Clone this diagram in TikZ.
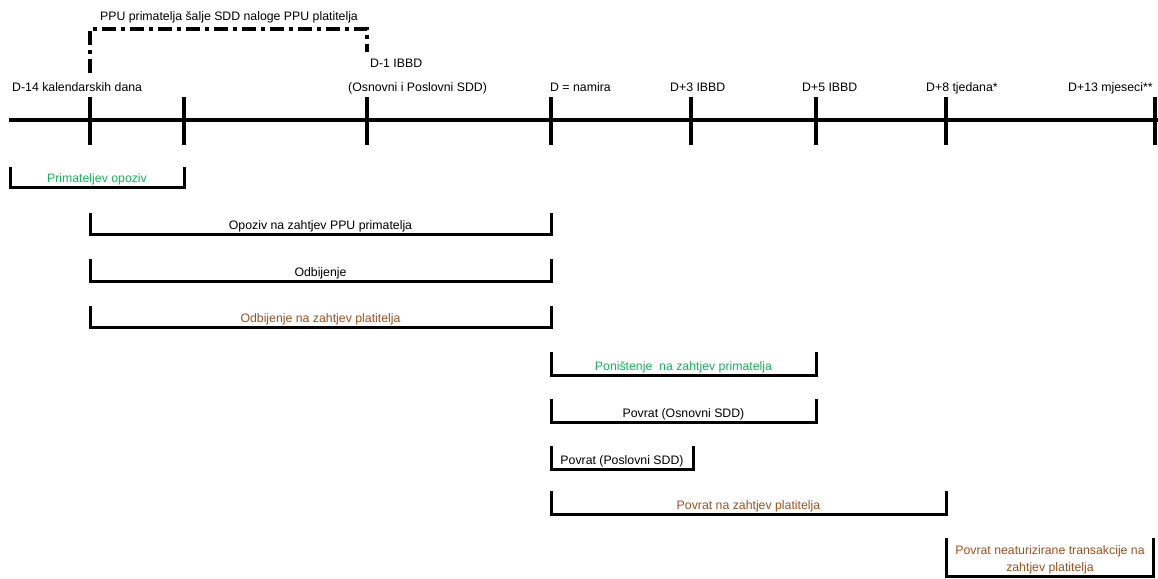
\documentclass[tikz,border=0pt]{standalone}
\usepackage{fontspec}
\setmainfont{Liberation Sans}
\definecolor{grn}{RGB}{20,180,90}
\definecolor{brn}{RGB}{160,80,30}
\begin{document}
\begin{tikzpicture}[x=1pt,y=-1pt,
  txt/.style={inner sep=0pt,anchor=base,font=\fontsize{12.3}{17}\selectfont},
  lbl/.style={txt,anchor=base west},
  axis/.style={line width=4pt},
  tick/.style={line width=4pt},
  brk/.style={line width=3pt,line join=miter},
  dd/.style={line width=3.6pt,dash pattern=on 14pt off 5pt on 4pt off 5pt}]
\useasboundingbox (0,0) rectangle (1158,578);
% tick coordinates
\foreach \n/\x in {a/90,b/184,c/367,d/551,e/691,f/816,g/946,h/1155}{
  \coordinate (t\n u) at (\x,97);
  \coordinate (t\n l) at (\x,145);
}
\coordinate (ls) at (9,120);
\coordinate (le) at (1158,120);
\draw[axis] (ls) -- (le);
\foreach \n in {a,b,c,d,e,f,g,h}{\draw[tick] (t\n u) -- (t\n l);}
% labels
\node[lbl] (l14) at (12,91) {D-14 kalendarskih dana};
\node[lbl] (lsdd) at (348,91) {(Osnovni i Poslovni SDD)};
\node[lbl] (ld1) at (370,67.5) {D-1 IBBD};
\node[lbl] (ld) at (550,91) {D = namira};
\node[lbl] (ld3) at (670,91) {D+3 IBBD};
\node[lbl] (ld5) at (802,91) {D+5 IBBD};
\node[lbl] (ld8) at (926,91) {D+8 tjedana*};
\node[lbl] (ld13) at (1068,91) {D+13 mjeseci**};
% dash-dot connector
\coordinate (da) at (90,73);
\coordinate (db) at (367,52);
\node[txt] (ppu) at (229,20.5) {PPU primatelja šalje SDD naloge PPU platitelja};
\draw[dd] (da) -- (90,29) -- (367,29) -- (db);
% brackets
\foreach \nm/\l/\r/\t/\b/\c/\s in {
  b1/10/184/167/187/grn/Primateljev opoziv,
  b2/90/551/213/234/black/Opoziv na zahtjev PPU primatelja,
  b3/90/551/259/281/black/Odbijenje,
  b4/90/551/306/327/brn/Odbijenje na zahtjev platitelja,
  b5/551/816/352/375/grn/Poništenje \ na zahtjev primatelja,
  b6/551/816/399/422/black/Povrat (Osnovni SDD),
  b7/551/693/446/469/black/Povrat (Poslovni SDD),
  b8/551/946/491/514/brn/Povrat na zahtjev platitelja}{
  \coordinate (\nm tl) at (\l,\t);
  \coordinate (\nm bl) at (\l,\b);
  \coordinate (\nm br) at (\r,\b);
  \coordinate (\nm tr) at (\r,\t);
  \draw[brk] (\nm tl) -- (\nm bl) -- (\nm br) -- (\nm tr);
  \node[txt,text=\c] (\nm x) at ({(\l+\r)/2},{\b-4.8}) {\s};
}
\coordinate (b9tl) at (946,538);
\coordinate (b9bl) at (946,576.5);
\coordinate (b9br) at (1153,576.5);
\coordinate (b9tr) at (1153,538);
\draw[brk] (b9tl) -- (b9bl) -- (b9br) -- (b9tr);
\node[txt,text=brn] (b9x1) at (1050,554.5) {Povrat neaturizirane transakcije na};
\node[txt,text=brn] (b9x2) at (1050,571.5) {zahtjev platitelja};
\end{tikzpicture}
\end{document}
